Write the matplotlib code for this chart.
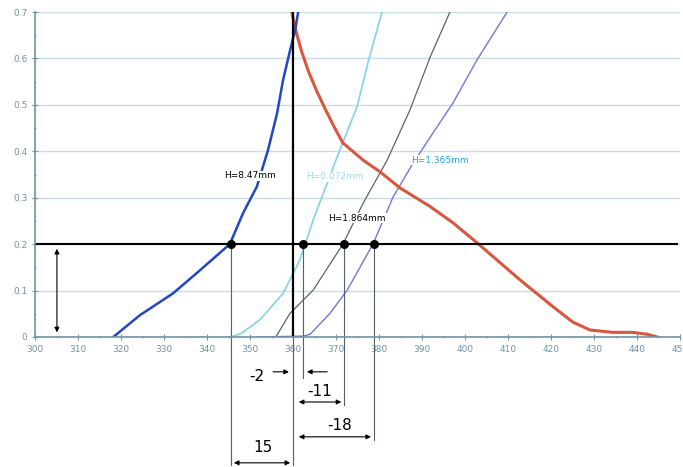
import matplotlib.pyplot as plt
import numpy as np

# curves (x = position, y = value)
blue_x = [318.2, 324.4, 332.1, 338.4, 345.3, 348.4, 351.6, 354.2, 356.3, 357.7, 359.8, 360.5, 361.2]
blue_y = [0.0, 0.047, 0.094, 0.144, 0.2, 0.267, 0.324, 0.403, 0.482, 0.554, 0.636, 0.661, 0.7]

red_x = [359.7, 360.8, 362.0, 363.6, 365.6, 367.6, 369.6, 371.6, 376.3, 380.2, 384.9, 391.9, 397.2,
         402.8, 412.8, 420.5, 425.1, 429.1, 434.4, 439.0, 442.3, 444.7]
red_y = [0.7, 0.655, 0.615, 0.572, 0.528, 0.489, 0.452, 0.418, 0.381, 0.356, 0.321, 0.281, 0.246,
         0.203, 0.123, 0.065, 0.032, 0.015, 0.01, 0.01, 0.006, 0.0]

cyan_x = [345.5, 348.0, 352.3, 357.7, 361.6, 364.7, 370.9, 374.9, 377.6, 380.7]
cyan_y = [0.0, 0.008, 0.037, 0.094, 0.166, 0.252, 0.403, 0.496, 0.597, 0.7]

gray_x = [356.0, 359.3, 364.7, 371.6, 376.3, 381.9, 387.2, 391.9, 396.5]
gray_y = [0.0, 0.051, 0.101, 0.2, 0.288, 0.381, 0.489, 0.603, 0.7]

purple_x = [352.0, 362.5, 364.0, 368.6, 372.6, 378.6, 383.3, 387.9, 392.6, 397.2, 402.8, 409.8]
purple_y = [0.0, 0.002, 0.006, 0.051, 0.101, 0.2, 0.302, 0.374, 0.44, 0.504, 0.597, 0.7]

dot_x = [345.6, 362.3, 371.9, 378.8]
ref_x = 360
level = 0.2
offset_labels = ["15", "-2", "-11", "-18"]

fig = plt.figure(figsize=(6.83, 4.67), dpi=100)
ax = fig.add_axes([35 / 683, 130 / 467, 645 / 683, 325 / 467])

axis_col = "#6f93ab"
ax.set_xlim(300, 450)
ax.set_ylim(0, 0.7)
ax.set_xticks(np.arange(300, 451, 10))
ax.set_xticks(np.arange(300, 451, 5), minor=True)
ax.set_yticks(np.arange(0, 0.71, 0.1))
ax.set_yticks(np.arange(0, 0.71, 0.05), minor=True)
ax.set_yticklabels(["0", "0.1", "0.2", "0.3", "0.4", "0.5", "0.6", "0.7"])
ax.tick_params(which="both", colors=axis_col, labelsize=6.5, direction="inout", length=4)
ax.tick_params(which="minor", length=2)
for s in ["top", "right"]:
    ax.spines[s].set_visible(False)
for s in ["left", "bottom"]:
    ax.spines[s].set_color(axis_col)
    ax.spines[s].set_linewidth(1.2)
ax.yaxis.grid(True, color="#c9dde9", linewidth=1)
ax.set_axisbelow(True)

ax.plot(cyan_x, cyan_y, color="#8ad4e4", lw=1.3)
ax.plot(gray_x, gray_y, color="#5a6666", lw=0.9)
ax.plot(purple_x, purple_y, color="#7474e0", lw=1.0)
ax.plot(red_x, red_y, color="#d9573f", lw=2.2)
ax.plot(blue_x, blue_y, color="#2346c4", lw=1.8)

# reference lines
ax.plot([300, 449.3], [level, level], color="black", lw=1.5)
ax.plot([ref_x, ref_x], [0, 0.7], color="black", lw=1.6)
ax.scatter(dot_x, [level] * len(dot_x), color="black", s=30, zorder=5)

# curve labels
box = dict(facecolor="white", edgecolor="none", pad=0.5)
ax.text(350, 0.347, "H=8.47mm", fontsize=6.5, ha="center", va="center", bbox=box)
ax.text(369.8, 0.345, "H=0.072mm", fontsize=6.5, ha="center", va="center", color="#9fdcea", bbox=box)
ax.text(374.9, 0.256, "H=1.864mm", fontsize=6.5, ha="center", va="center", bbox=box)
ax.text(394.2, 0.381, "H=1.365mm", fontsize=6.5, ha="center", va="center", color="#2a9fdc", bbox=box)

# dimension lines below the axis
thin = dict(color="#4f5f6c", lw=0.8, clip_on=False)
drops = [-0.276, -0.088, -0.146, -0.222]
for x, y_end in zip(dot_x, drops):
    ax.plot([x, x], [level, y_end], **thin)
ax.plot([ref_x, ref_x], [0, -0.276], **thin)

arrow = dict(arrowstyle="<|-|>", color="black", lw=0.8, mutation_scale=7)
one_way = dict(arrowstyle="-|>", color="black", lw=0.8, mutation_scale=7)


def dim(x0, x1, y, style):
    ax.annotate("", xy=(x1, y), xytext=(x0, y), arrowprops=style, annotation_clip=False)


dim(354.7, ref_x - 0.3, -0.075, one_way)
dim(368.6, dot_x[1] + 0.3, -0.075, one_way)
dim(ref_x + 0.7, dot_x[2], -0.14, arrow)
dim(ref_x + 0.7, dot_x[3], -0.215, arrow)
dim(dot_x[0], ref_x, -0.271, arrow)
ax.annotate("", xy=(305.1, 0.004), xytext=(305.1, 0.196), arrowprops=arrow, annotation_clip=False)

label_pos = [(353.0, -0.237), (351.6, -0.086), (366.3, -0.118), (370.9, -0.19)]
for (tx, ty), lab in zip(label_pos, offset_labels):
    ax.text(tx, ty, lab, fontsize=11, ha="center", va="center", clip_on=False)

fig.savefig("out.png", dpi=100)
